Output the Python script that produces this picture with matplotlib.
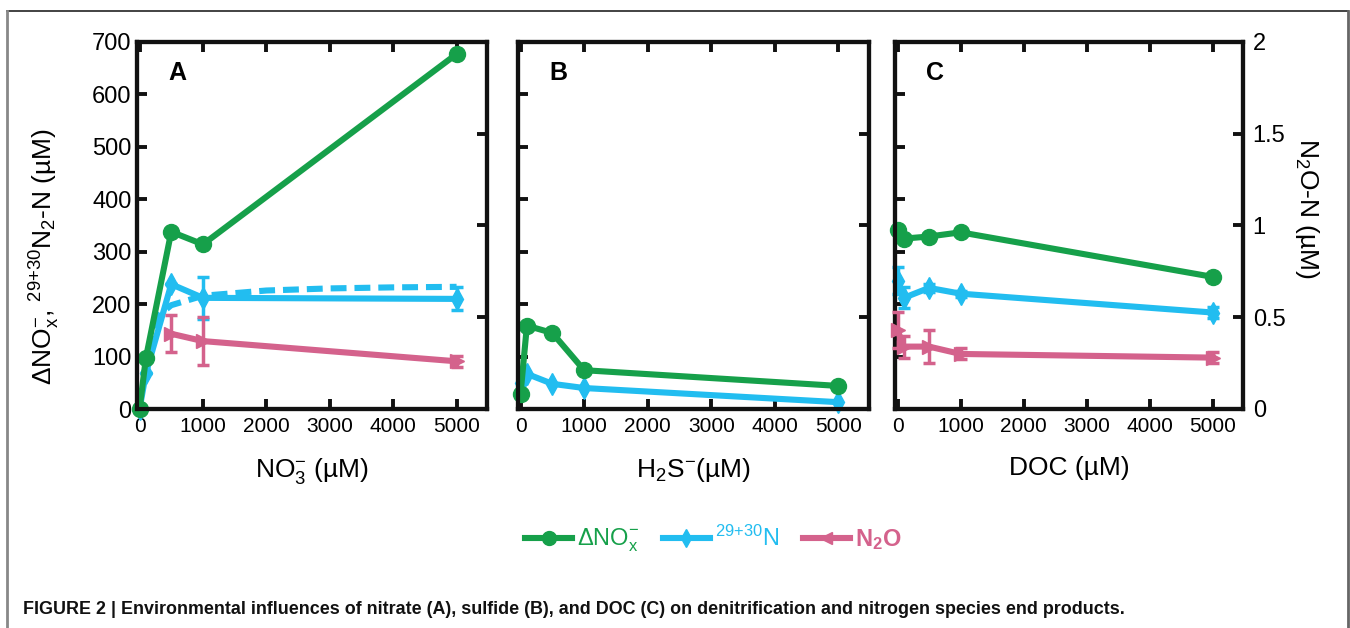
import matplotlib
matplotlib.use("Agg")
import matplotlib.pyplot as plt
from matplotlib.lines import Line2D
import numpy as np

plt.rcParams['font.family'] = ['Liberation Sans', 'DejaVu Sans']
plt.rcParams['mathtext.fontset'] = 'custom'
plt.rcParams['mathtext.rm'] = 'Liberation Sans'
plt.rcParams['mathtext.it'] = 'Liberation Sans'
plt.rcParams['mathtext.bf'] = 'Liberation Sans:bold'

# ---------------- data ----------------
x_conc = [0, 100, 500, 1000, 5000]

# Panel A (nitrate)
a_dno = [0, 97, 338, 314, 677]
a_n2 = [0, 68, 238, 212, 210]
a_n2_err = [0, 0, 0, 40, 22]
a_fit_x = [100, 200, 300, 500, 1000, 2000, 3000, 4000, 5000]
a_fit_y = [65, 145, 178, 198, 216, 226, 230, 232, 233]
a_n2o_x = [500, 1000, 5000]
a_n2o = [0.41, 0.37, 0.26]
a_n2o_err = [0.10, 0.13, 0.03]

# Panel B (sulfide)
b_dno = [29, 159, 145, 74, 44]
b_n2 = [50, 67, 48, 40, 13]

# Panel C (DOC)
c_dno = [342, 325, 329, 337, 252]
c_n2 = [245, 212, 231, 220, 184]
c_n2_err = [26, 20, 8, 6, 10]
c_n2o = [0.43, 0.34, 0.34, 0.30, 0.28]
c_n2o_err = [0.10, 0.06, 0.09, 0.03, 0.03]

panel_letters = ['A', 'B', 'C']
x_labels = [r'NO$_3^{-}$ (µM)', r'H$_2$S$^{-}$(µM)', 'DOC (µM)']
left_ticks = [0, 100, 200, 300, 400, 500, 600, 700]
right_ticks = [0, 0.5, 1, 1.5, 2]
right_ticklabels = ['0', '0.5', '1', '1.5', '2']
x_ticks = [0, 1000, 2000, 3000, 4000, 5000]

GREEN = '#16a04a'
BLUE = '#22bdf0'
PINK = '#d4628c'

W, H = 1350, 628
fig = plt.figure(figsize=(W / 100, H / 100), dpi=100)

def fx(px):
    return px / W

def fy(py):
    return 1 - py / H

lefts = [137, 518, 895]
widths = [350, 351, 348]
top_px, bot_px = 42, 409

LW = 4.4
axes = []
for i in range(3):
    ax = fig.add_axes([fx(lefts[i]), fy(bot_px), widths[i] / W, (bot_px - top_px) / H])
    ax2 = ax.twinx()
    ax.set_xlim(-40, 5480)
    ax.set_ylim(0, 700)
    ax2.set_ylim(0, 2)
    for a in (ax, ax2):
        for s in a.spines.values():
            s.set_linewidth(3.0)
            s.set_color('#111111')
    ax.set_xticks(x_ticks)
    ax.set_xticklabels([str(v) for v in x_ticks], fontsize=15)
    ax.tick_params(axis='x', direction='in', length=7, width=2.8, pad=6, top=True, color='#111111')
    ax.set_yticks(left_ticks)
    if i == 0:
        ax.set_yticklabels([str(v) for v in left_ticks], fontsize=17)
    else:
        ax.set_yticklabels([])
    ax.tick_params(axis='y', direction='in', length=7, width=2.8, pad=4, color='#111111')
    ax2.set_yticks(right_ticks)
    if i == 2:
        ax2.set_yticklabels(right_ticklabels, fontsize=17)
    else:
        ax2.set_yticklabels([])
    ax2.tick_params(axis='y', direction='in', length=7, width=2.8, pad=7, color='#111111')
    ax.text(0.115, 0.915, panel_letters[i], transform=ax.transAxes, fontsize=18,
            fontweight='bold', ha='center', va='center')
    ax.set_xlabel(x_labels[i], fontsize=19)
    ax.xaxis.set_label_coords(0.5, -0.128)
    axes.append((ax, ax2))

# Panel A
ax, ax2 = axes[0]
ax.plot(a_fit_x, a_fit_y, color=BLUE, lw=LW, ls=(0, (2.6, 1.3)), zorder=3, clip_on=False)
ax.errorbar(x_conc, a_n2, yerr=a_n2_err, color=BLUE, lw=LW, marker='d', ms=11,
            elinewidth=2.5, capsize=4, capthick=2.5, zorder=4, clip_on=False)
ax.plot(x_conc, a_dno, color=GREEN, lw=LW, marker='o', ms=11.5, zorder=5, clip_on=False)
ax2.errorbar(a_n2o_x, a_n2o, yerr=a_n2o_err, color=PINK, lw=LW, marker='>', ms=10,
             elinewidth=2.5, capsize=4, capthick=2.5, zorder=4, clip_on=False)

# Panel B
ax, ax2 = axes[1]
ax.plot(x_conc, b_n2, color=BLUE, lw=LW, marker='d', ms=11, zorder=4, clip_on=False)
ax.plot(x_conc, b_dno, color=GREEN, lw=LW, marker='o', ms=11.5, zorder=5, clip_on=False)

# Panel C
ax, ax2 = axes[2]
ax.errorbar(x_conc, c_n2, yerr=c_n2_err, color=BLUE, lw=LW, marker='d', ms=11,
            elinewidth=2.5, capsize=4, capthick=2.5, zorder=4, clip_on=False)
ax.plot(x_conc, c_dno, color=GREEN, lw=LW, marker='o', ms=11.5, zorder=5, clip_on=False)
ax2.errorbar(x_conc, c_n2o, yerr=c_n2o_err, color=PINK, lw=LW, marker='>', ms=10,
             elinewidth=2.5, capsize=4, capthick=2.5, zorder=4, clip_on=False)

# axis titles
fig.text(fx(45), fy(257), r'$\Delta$NO$_x^{-}$, $^{29{+}30}$N$_2$-N (µM)', rotation=90,
         ha='center', va='center', fontsize=19)
fig.text(fx(1307), fy(209), r'N$_2$O-N (µM)', rotation=270,
         ha='center', va='center', fontsize=19)

# legend
handles = [
    Line2D([], [], color=GREEN, lw=LW, marker='o', ms=10),
    Line2D([], [], color=BLUE, lw=LW, marker='d', ms=9),
    Line2D([], [], color=PINK, lw=LW, marker='<', ms=9),
]
labels = [r'$\Delta$NO$_x^{-}$', r'$^{29{+}30}$N', r'$\mathbf{N_2O}$']
leg = fig.legend(handles, labels, loc='center', bbox_to_anchor=(fx(713), fy(540)),
                 ncol=3, frameon=False, fontsize=17, handlelength=2.0,
                 handletextpad=0.2, columnspacing=1.0)
for t, c in zip(leg.get_texts(), [GREEN, BLUE, PINK]):
    t.set_color(c)

# caption
fig.text(fx(23), fy(610),
         'FIGURE 2 | Environmental influences of nitrate (A), sulfide (B), and DOC (C) on '
         'denitrification and nitrogen species end products.',
         fontsize=12.9, fontweight='bold', ha='left', va='center', color='#111111')

# page frame
fig.add_artist(Line2D([fx(7), fx(1348)], [fy(11), fy(11)], transform=fig.transFigure,
                      color='#222222', lw=1.2))
fig.add_artist(Line2D([fx(7), fx(7)], [fy(11), 0], transform=fig.transFigure,
                      color='#888888', lw=2))
fig.add_artist(Line2D([fx(1348), fx(1348)], [fy(11), 0], transform=fig.transFigure,
                      color='#666666', lw=2))

fig.savefig('out.png', dpi=100)
